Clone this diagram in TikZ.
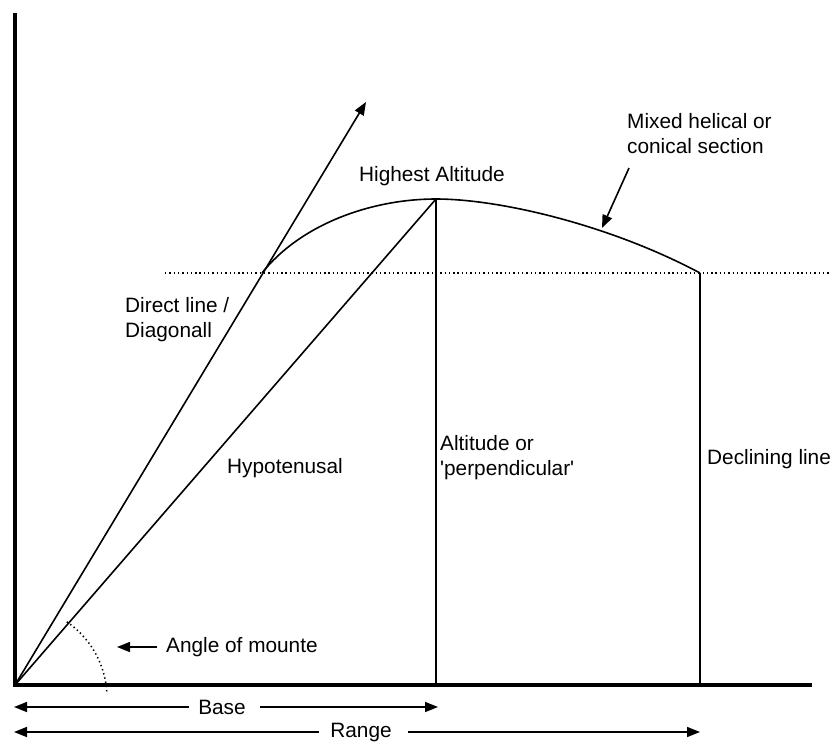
\documentclass[tikz,border=0pt]{standalone}
\usepackage{fontspec}
\setmainfont{Liberation Sans}
\usetikzlibrary{arrows.meta}
\begin{document}
\begin{tikzpicture}[x=1pt,y=-1pt,
  thinline/.style={line width=1.6pt},
  axisline/.style={line width=3.6pt},
  dotline/.style={line width=1.5pt,dash pattern=on 1.4pt off 2.9pt},
  tip/.style={-{Triangle[length=13pt,width=10pt]}},
  lbl/.style={inner sep=0pt,font=\fontsize{20.8}{25}\selectfont},
  ]
\useasboundingbox (0,0) rectangle (832,742);
% key points
\coordinate (O) at (15,685);
\coordinate (ytop) at (15,13);
\coordinate (xend) at (812,685);
\coordinate (dirtip) at (366,102);
\coordinate (apex) at (436,199);
\coordinate (apexfoot) at (436,685);
\coordinate (meet) at (262,273);
\coordinate (endc) at (700,273);
\coordinate (endfoot) at (700,685);
\coordinate (dotL) at (165,273);
\coordinate (dotR) at (830,273);
% axes
\draw[axisline] (ytop) -- (O) -- (xend);
% direct line and hypotenuse
\draw[thinline,tip] (O) -- (dirtip);
\draw[thinline] (O) -- (apex);
% altitude and declining line
\draw[thinline] (apex) -- (apexfoot);
\draw[thinline] (endc) -- (endfoot);
% curve
\draw[thinline] (meet) .. controls (300,225) and (370,199) .. (apex)
  .. controls (500,199) and (610,225) .. (endc);
% dotted level line
\draw[dotline] (dotL) -- (dotR);
% angle arc
\draw[dotline] ([shift={(4:92)}]O) arc[start angle=-4,end angle=-57,radius=92];
% labels
\node[lbl] (high) at (432,176) {Highest Altitude};
\node[lbl,anchor=west,align=left] (mixed) at (627,134) {Mixed helical or\\conical section};
\coordinate (mixA) at (629,168);
\coordinate (mixB) at (602,228);
\draw[thinline,tip] (mixA) -- (mixB);
\node[lbl,anchor=west,align=left] (direct) at (125,320) {Direct line /\\Diagonall};
\node[lbl,anchor=west] (hyp) at (227,468) {Hypotenusal};
\node[lbl,anchor=west,align=left] (alt) at (440,458) {Altitude or\\\textquotesingle perpendicular\textquotesingle};
\node[lbl,anchor=west] (decl) at (707,459) {Declining line};
\node[lbl,anchor=west] (angle) at (166,647) {Angle of mounte};
\coordinate (angA) at (157,647);
\coordinate (angB) at (117,647);
\draw[thinline,tip] (angA) -- (angB);
% base and range
\node[lbl] (base) at (222,707) {Base};
\coordinate (baseL) at (14,707);
\coordinate (baseR) at (438,707);
\draw[thinline,tip] (base.west) ++(-9,0) -- (baseL);
\draw[thinline,tip] (base.east) ++(14,0) -- (baseR);
\node[lbl] (range) at (361,732) {Range};
\coordinate (rangeL) at (14,732);
\coordinate (rangeR) at (700,732);
\draw[thinline,tip] (range.west) ++(-11,0) -- (rangeL);
\draw[thinline,tip] (range.east) ++(16,0) -- (rangeR);
\end{tikzpicture}
\end{document}
